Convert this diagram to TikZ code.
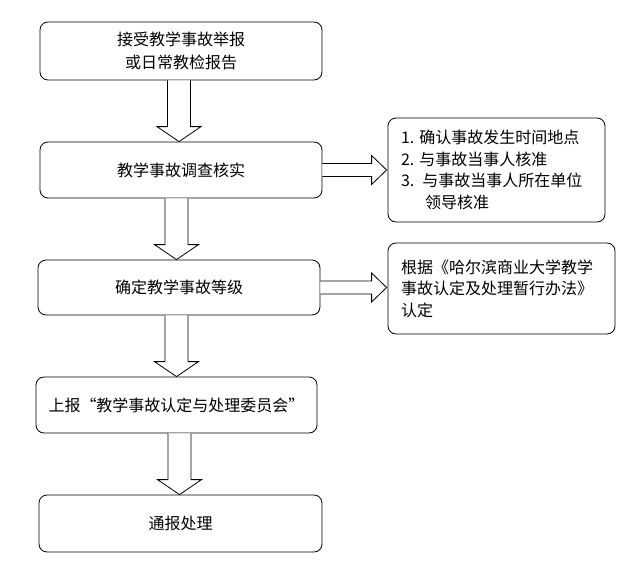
\documentclass[tikz,border=0pt]{standalone}
\usepackage{fontspec}
\setmainfont{Noto Sans CJK SC}
\usetikzlibrary{calc}
\tikzset{
  box/.style={draw=black, line width=0.8pt, rounded corners=8pt, align=center,
    font=\fontsize{16}{23}\selectfont, inner sep=0pt},
  sidebox/.style={box, align=left, inner xsep=13pt, font=\fontsize{16}{21.5}\selectfont},
  blockarrow/.style={draw=black, line width=0.8pt, fill=white, line join=miter}
}
\newcommand\blockdown[3]{%
  \draw[blockarrow] let \p1=(#1.south), \p2=(#2.north) in
    ({#3pt-11.5pt},\y1) -- ({#3pt-11.5pt},{\y2+15pt}) -- ({#3pt-22pt},{\y2+15pt})
    -- ({#3pt},\y2) -- ({#3pt+22pt},{\y2+15pt}) -- ({#3pt+11.5pt},{\y2+15pt})
    -- ({#3pt+11.5pt},\y1);}
\newcommand\blockright[2]{%
  \draw[blockarrow] let \p1=(#1.east), \p2=(#2.west) in
    (\x1,{\y1+6.5pt}) -- ({\x2-16pt},{\y1+6.5pt}) -- ({\x2-16pt},{\y1+14.5pt})
    -- ({\x2-1pt},\y1) -- ({\x2-16pt},{\y1-14.5pt}) -- ({\x2-16pt},{\y1-6.5pt})
    -- (\x1,{\y1-6.5pt});}
\begin{document}
\begin{tikzpicture}[x=1pt,y=-1pt]
\useasboundingbox[fill=white] (0,0) rectangle (640,581);
\node[box, minimum width=282pt, minimum height=58pt] (b1) at (181,51)
  {接受教学事故举报\\或日常教检报告};
\node[box, minimum width=282pt, minimum height=56pt] (b2) at (181,170)
  {教学事故调查核实};
\node[box, minimum width=282pt, minimum height=55pt] (b3) at (179,287.5)
  {确定教学事故等级};
\node[box, minimum width=281pt, minimum height=56pt] (b4) at (176.5,405)
  {上报“教学事故认定与处理委员会”};
\node[box, minimum width=283pt, minimum height=57pt] (b5) at (180.5,523.5)
  {通报处理};
\node[sidebox, text width=191pt, minimum height=104pt] (sa) at (496.5,170)
  {1.\hspace{5pt}确认事故发生时间地点\\2.\hspace{5pt}与事故当事人核准\\3.\hspace{8pt}与事故当事人所在单位\\\hspace*{24pt}领导核准};
\node[sidebox, text width=201pt, minimum height=91pt] (sb) at (501.5,288.5)
  {根据《哈尔滨商业大学教学\\事故认定及处理暂行办法》\\认定};
\blockdown{b1}{b2}{179}
\blockdown{b2}{b3}{176.5}
\blockdown{b3}{b4}{176.5}
\blockdown{b4}{b5}{179.5}
\blockright{b2}{sa}
\blockright{b3}{sb}
\end{tikzpicture}
\end{document}
